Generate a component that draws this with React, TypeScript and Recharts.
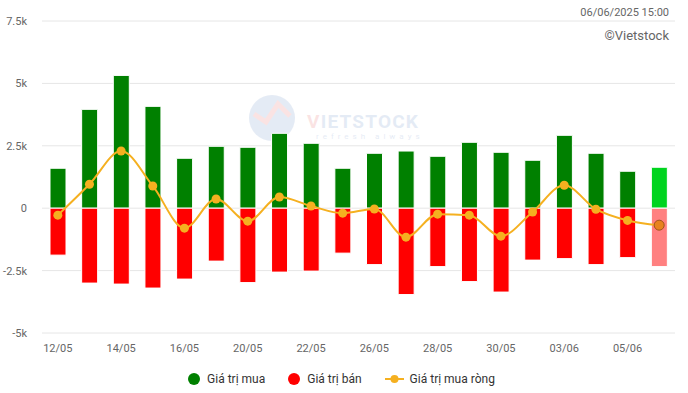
import React from "react"
import {
  Bar, Cell, CartesianGrid, ComposedChart, Legend, Line, XAxis, YAxis,
} from "recharts"

const dates = [
  "12/05", "13/05", "14/05", "15/05", "16/05", "19/05", "20/05", "21/05", "22/05", "23/05",
  "26/05", "27/05", "28/05", "29/05", "30/05", "02/06", "03/06", "04/06", "05/06", "06/06",
]
const buyValues = [
  1600, 3960, 5320, 4080, 2000, 2480, 2440, 3000, 2600, 1600,
  2200, 2290, 2080, 2640, 2240, 1920, 2920, 2200, 1480, 1640,
]
const sellValues = [
  -1880, -3000, -3040, -3200, -2840, -2120, -2980, -2560, -2520, -1800,
  -2260, -3460, -2340, -2940, -3360, -2080, -2020, -2260, -1980, -2340,
]
const netValues = [
  -280, 960, 2290, 890, -800, 370, -520, 450, 90, -200,
  -30, -1160, -240, -280, -1120, -150, 920, -40, -490, -680,
]
const yTicks = [-5000, -2500, 0, 2500, 5000, 7500]

const data = dates.map((d, i) => ({
  date: d,
  buy: buyValues[i],
  sell: sellValues[i],
  net: netValues[i],
}))

const FONT = "Roboto, 'Noto Sans', sans-serif"
const GREEN = "#008000"
const RED = "#ff0000"
const ORANGE = "#f5b020"
const last = dates.length - 1

const fmtK = (v: number) => (v === 0 ? "0" : `${v / 1000}k`)

function NetDot(props: any) {
  const { cx, cy, index } = props
  if (cx == null || cy == null) return null
  if (index === last) {
    return <circle cx={cx} cy={cy} r={5} fill="#e8821e" stroke="#a0521a" strokeWidth={1} />
  }
  return <circle cx={cx} cy={cy} r={4.5} fill={ORANGE} stroke="none" />
}

function LegendRow() {
  const item = { display: "flex", alignItems: "center", marginRight: 23 } as const
  const dot = (c: string) => (
    <span style={{ width: 12, height: 12, borderRadius: 6, background: c, marginRight: 7 }} />
  )
  return (
    <div style={{
      display: "flex", justifyContent: "center", alignItems: "center", height: 24,
      paddingLeft: 8, fontFamily: FONT, fontSize: 12, color: "#333",
    }}>
      <div style={item}>{dot(GREEN)}Giá trị mua</div>
      <div style={item}>{dot(RED)}Giá trị bán</div>
      <div style={{ display: "flex", alignItems: "center" }}>
        <svg width={19} height={12} style={{ marginRight: 6 }}>
          <line x1={0} y1={6} x2={19} y2={6} stroke={ORANGE} strokeWidth={2} />
          <circle cx={9.5} cy={6} r={4} fill={ORANGE} />
        </svg>
        Giá trị mua ròng
      </div>
    </div>
  )
}

export default function App() {
  return (
    <div style={{ position: "absolute", left: 0, top: 0, width: 688, height: 393, background: "#fff" }}>
      {/* faint logo watermark behind the plot */}
      <svg
        width={210}
        height={64}
        style={{ position: "absolute", left: 246, top: 92, opacity: 0.13 }}
      >
        <circle cx={26} cy={26} r={23} fill="#3a6bb5" />
        <path d="M8 22 L20 30 L32 12 L44 24" stroke="#e03030" strokeWidth={5} fill="none" />
        <text x={61} y={36} fontFamily={FONT} fontSize={19} fontWeight={700} letterSpacing={1.2}>
          <tspan fill="#e03030">V</tspan>
          <tspan fill="#3a6bb5">IETSTOCK</tspan>
        </text>
        <text x={70} y={47} fontFamily={FONT} fontSize={8} letterSpacing={4} fill="#3a6bb5">refresh always</text>
      </svg>
      <ComposedChart
        width={688}
        height={393}
        data={data}
        stackOffset="sign"
        margin={{ top: 21, right: 13, left: 0, bottom: 2 }}
      >
        <CartesianGrid vertical={false} stroke="#e6e6e6" />
        <XAxis
          dataKey="date"
          interval={1}
          axisLine={false}
          tickLine={false}
          tickSize={0}
          tickMargin={11}
          height={34}
          tick={{ fontSize: 11, fill: "#666", fontFamily: FONT }}
        />
        <YAxis
          domain={[-5000, 7500]}
          ticks={yTicks}
          tickFormatter={fmtK}
          axisLine={false}
          tickLine={false}
          tickSize={0}
          tickMargin={15}
          width={42}
          tick={{ fontSize: 11, fill: "#666", fontFamily: FONT }}
        />
        <Legend verticalAlign="bottom" height={24} content={() => <LegendRow />} />
        <Bar dataKey="buy" name="Giá trị mua" stackId="a" barSize={16} fill={GREEN} stroke="#fff" strokeWidth={1} isAnimationActive={false}>
          {data.map((_, i) => (
            <Cell key={i} fill={i === last ? "#00d41f" : GREEN} />
          ))}
        </Bar>
        <Bar dataKey="sell" name="Giá trị bán" stackId="a" barSize={16} fill={RED} stroke="#fff" strokeWidth={1} isAnimationActive={false}>
          {data.map((_, i) => (
            <Cell key={i} fill={i === last ? "#ff8080" : RED} />
          ))}
        </Bar>
        <Line
          dataKey="net"
          name="Giá trị mua ròng"
          type="monotone"
          stroke={ORANGE}
          strokeWidth={2}
          dot={<NetDot />}
          activeDot={false}
          isAnimationActive={false}
        />
      </ComposedChart>
      <div style={{ position: "absolute", right: 19, top: 6, fontFamily: FONT, fontSize: 11, color: "#666" }}>
        06/06/2025 15:00
      </div>
      <div style={{ position: "absolute", right: 19, top: 28, fontFamily: FONT, fontSize: 13, color: "#666" }}>
        ©Vietstock
      </div>
    </div>
  )
}
